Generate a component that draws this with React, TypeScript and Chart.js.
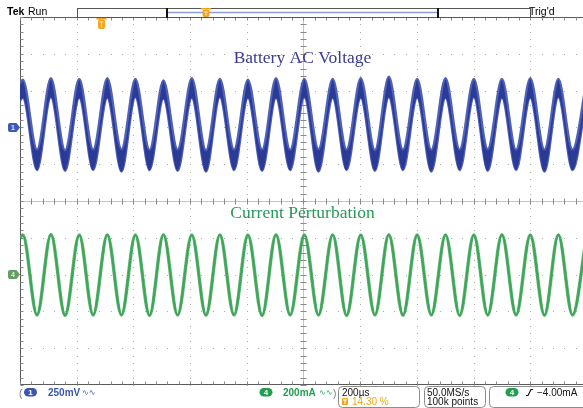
import React, { useEffect, useRef } from "react";
import { Chart, registerables } from "chart.js";
Chart.register(...registerables);

// ---- data ----
// times of the sample points (µs), start + alternating peaks/troughs
const timeUs = [0, 10, 60, 109, 159, 209, 258, 308, 358, 407, 457, 506, 556, 606, 656, 705, 755, 804, 854, 903, 953, 1003, 1053, 1103, 1152, 1202, 1252, 1301, 1351, 1401, 1451, 1501, 1551, 1601, 1650, 1700, 1750, 1800, 1850, 1899, 1949, 1999];
// CH1 (battery AC voltage) noisy band: upper and lower envelope, mV
const ch1UpperMv = [300, 325, -150, 335, -155, 330, -150, 335, -148, 330, -152, 320, -150, 335, -155, 330, -150, 325, -150, 335, -152, 330, -148, 330, -150, 335, -155, 345, -150, 330, -152, 335, -150, 330, -148, 330, -152, 335, -150, 330, -150, 325];
const ch1LowerMv = [180, 200, -290, 205, -295, 200, -290, 200, -300, 205, -290, 195, -295, 200, -300, 205, -290, 200, -295, 200, -290, 205, -300, 200, -290, 200, -295, 205, -290, 200, -300, 200, -290, 205, -295, 200, -290, 200, -300, 205, -290, 200];
// CH4 (current perturbation), mA
const ch4Ma = [200, 215, -220, 218, -222, 215, -220, 216, -220, 215, -222, 217, -220, 215, -221, 216, -220, 215, -222, 217, -220, 215, -220, 216, -222, 215, -220, 217, -221, 215, -220, 216, -222, 215, -220, 217, -220, 215, -221, 216, -220, 215];

const CH1_MV_PER_DIV = 250;
const CH1_OFFSET_DIV = 2;
const CH4_MA_PER_DIV = 200;
const CH4_OFFSET_DIV = -2;
const US_PER_DIV = 200;
const VISIBLE_MAX_US = 1986;
const TRIGGER_US = 286;

const titleCh1 = "Battery AC Voltage";
const titleCh4 = "Current Perturbation";
const headerLeftBold = "Tek";
const headerLeft = "Run";
const headerRight = "Trig'd";
const ch1Label = "250mV";
const ch4Label = "200mA";
const timebaseLabel = "200µs";
const triggerPosLabel = "14.30 %";
const sampleRateLabel = "50.0MS/s";
const recordLabel = "100k points";
const triggerLevelLabel = "−4.00mA";

const BLUE = "#3b55b0";
const GREEN = "#1f9f4f";
const ORANGE = "#f2a51c";

function rrect(ctx: CanvasRenderingContext2D, x: number, y: number, w: number, h: number, r: number) {
  ctx.beginPath();
  ctx.moveTo(x + r, y);
  ctx.lineTo(x + w - r, y);
  ctx.arcTo(x + w, y, x + w, y + r, r);
  ctx.lineTo(x + w, y + h - r);
  ctx.arcTo(x + w, y + h, x + w - r, y + h, r);
  ctx.lineTo(x + r, y + h);
  ctx.arcTo(x, y + h, x, y + h - r, r);
  ctx.lineTo(x, y + r);
  ctx.arcTo(x, y, x + r, y, r);
  ctx.closePath();
}

function pill(ctx: CanvasRenderingContext2D, x: number, y: number, w: number, h: number, fill: string, text: string) {
  rrect(ctx, x, y, w, h, h / 2);
  ctx.fillStyle = fill;
  ctx.fill();
  ctx.fillStyle = "#ffffff";
  ctx.font = "bold 8px 'Liberation Sans', Arial, sans-serif";
  ctx.textAlign = "center";
  ctx.textBaseline = "middle";
  ctx.fillText(text, x + w / 2, y + h / 2 + 0.5);
}

function trigMarker(ctx: CanvasRenderingContext2D, x: number, yTop: number, h: number) {
  ctx.fillStyle = ORANGE;
  ctx.fillRect(x - 5, yTop, 10, 1.5);
  rrect(ctx, x - 3.5, yTop + 1.5, 7, h - 1.5, 2);
  ctx.fill();
  ctx.fillStyle = "#fde3b0";
  ctx.fillRect(x - 2, yTop + 3.5, 4, 1);
  ctx.fillRect(x - 0.5, yTop + 3.5, 1, h - 5);
}

const scopePlugin = {
  id: "scope",
  beforeDatasetsDraw(chart: any) {
    const ctx: CanvasRenderingContext2D = chart.ctx;
    const xs = chart.scales.x;
    const ys = chart.scales.y;
    const ca = chart.chartArea;
    ctx.save();
    // dotted graticule
    ctx.fillStyle = "#a8a8a8";
    for (let i = 1; i < 11; i++) {
      if (i === 5) continue;
      const x = Math.round(xs.getPixelForValue(i * US_PER_DIV));
      if (x >= ca.right) continue;
      for (let j = 0; j <= 50; j++) {
        const y = Math.round(ys.getPixelForValue(-5 + j * 0.2));
        ctx.fillRect(x, y, 1, 1);
      }
    }
    for (let d = -4; d <= 4; d++) {
      if (d === 0) continue;
      const y = Math.round(ys.getPixelForValue(d));
      for (let j = 0; j <= 50; j++) {
        const x = Math.round(xs.getPixelForValue((j * US_PER_DIV) / 5));
        if (x >= ca.right) continue;
        ctx.fillRect(x, y, 1, 1);
      }
    }
    // center cross
    const cx = Math.round(xs.getPixelForValue(5 * US_PER_DIV)) + 0.5;
    const cy = Math.round(ys.getPixelForValue(0)) + 0.5;
    ctx.strokeStyle = "#c4c4c4";
    ctx.lineWidth = 1;
    ctx.beginPath();
    ctx.moveTo(cx, ca.top);
    ctx.lineTo(cx, ca.bottom);
    ctx.moveTo(ca.left, cy);
    ctx.lineTo(ca.right, cy);
    ctx.stroke();
    ctx.strokeStyle = "#8a8a8a";
    ctx.beginPath();
    for (let j = 0; j <= 50; j++) {
      const y = Math.round(ys.getPixelForValue(-5 + j * 0.2)) + 0.5;
      ctx.moveTo(cx - 3, y);
      ctx.lineTo(cx + 3, y);
      const x = Math.round(xs.getPixelForValue((j * US_PER_DIV) / 5)) + 0.5;
      if (x < ca.right) {
        ctx.moveTo(x, cy - 3);
        ctx.lineTo(x, cy + 3);
      }
    }
    ctx.stroke();
    // frame (left, top, bottom) with minor ticks
    ctx.strokeStyle = "#5a5a5a";
    ctx.lineWidth = 1;
    const L = Math.round(ca.left) + 0.5;
    const T = Math.round(ca.top) + 0.5;
    const B = Math.round(ca.bottom) - 0.5;
    ctx.beginPath();
    ctx.moveTo(L, T);
    ctx.lineTo(L, B);
    ctx.moveTo(L, T);
    ctx.lineTo(ca.right, T);
    ctx.moveTo(L, B);
    ctx.lineTo(ca.right, B);
    ctx.stroke();
    ctx.strokeStyle = "#8a8a8a";
    ctx.beginPath();
    for (let j = 0; j <= 50; j++) {
      const y = Math.round(ys.getPixelForValue(-5 + j * 0.2)) + 0.5;
      ctx.moveTo(L, y);
      ctx.lineTo(L + 3, y);
      const x = Math.round(xs.getPixelForValue((j * US_PER_DIV) / 5)) + 0.5;
      if (x < ca.right) {
        ctx.moveTo(x, T);
        ctx.lineTo(x, T + 3);
        ctx.moveTo(x, B);
        ctx.lineTo(x, B - 3);
      }
    }
    ctx.stroke();
    ctx.restore();
  },
  afterDatasetsDraw(chart: any) {
    const ctx: CanvasRenderingContext2D = chart.ctx;
    const xs = chart.scales.x;
    const ys = chart.scales.y;
    const ca = chart.chartArea;
    const midX = xs.getPixelForValue(1000) - 1;
    ctx.save();
    // titles
    ctx.textAlign = "center";
    ctx.textBaseline = "alphabetic";
    ctx.font = "17.5px 'Liberation Serif', 'Times New Roman', serif";
    ctx.fillStyle = "#3c3c94";
    ctx.fillText(titleCh1, midX, 63);
    ctx.fillStyle = "#27995a";
    ctx.fillText(titleCh4, midX, 218);

    // channel ground markers
    const drawGnd = (yv: number, fill: string, label: string) => {
      const y = ys.getPixelForValue(yv);
      ctx.beginPath();
      ctx.moveTo(10, y - 4.5);
      ctx.lineTo(16.5, y - 4.5);
      ctx.lineTo(ca.left, y);
      ctx.lineTo(16.5, y + 4.5);
      ctx.lineTo(10, y + 4.5);
      ctx.quadraticCurveTo(8, y + 4.5, 8, y + 2.5);
      ctx.lineTo(8, y - 2.5);
      ctx.quadraticCurveTo(8, y - 4.5, 10, y - 4.5);
      ctx.closePath();
      ctx.fillStyle = fill;
      ctx.fill();
      ctx.fillStyle = "#dfe6f5";
      ctx.font = "bold 7px 'Liberation Sans', Arial, sans-serif";
      ctx.textAlign = "center";
      ctx.textBaseline = "middle";
      ctx.fillText(label, 13, y + 0.5);
    };
    drawGnd(CH1_OFFSET_DIV, "#3d5bb3", "1");
    drawGnd(CH4_OFFSET_DIV, "#64a064", "4");

    // trigger position marker on graticule
    trigMarker(ctx, Math.round(xs.getPixelForValue(TRIGGER_US)) + 0.5, ca.top + 1, 11);

    // header
    ctx.textAlign = "left";
    ctx.textBaseline = "alphabetic";
    ctx.fillStyle = "#000";
    ctx.font = "bold 10.5px 'Liberation Sans', Arial, sans-serif";
    ctx.fillText(headerLeftBold, 7, 15);
    ctx.font = "10.5px 'Liberation Sans', Arial, sans-serif";
    ctx.fillText(headerLeft, 28, 15);
    ctx.fillText(headerRight, 529, 15);

    // record bar
    const barL = xs.getPixelForValue(US_PER_DIV);
    const barR = xs.getPixelForValue(9 * US_PER_DIV) - 0.5;
    ctx.strokeStyle = "#555";
    ctx.lineWidth = 1;
    ctx.strokeRect(Math.round(barL) + 0.5, 8.5, Math.round(barR - barL), 9);
    const winL = 167;
    const winR = 438;
    ctx.strokeStyle = "#8ea0d8";
    ctx.lineWidth = 1.5;
    ctx.beginPath();
    ctx.moveTo(winL, 12.5);
    ctx.lineTo(winR, 12.5);
    ctx.stroke();
    ctx.fillStyle = "#111";
    ctx.fillRect(winL - 1, 8, 2, 10);
    ctx.fillRect(winR - 1, 8, 2, 10);
    trigMarker(ctx, 206, 8, 9);

    // footer
    ctx.font = "10px 'Liberation Sans', Arial, sans-serif";
    ctx.fillStyle = "#777";
    ctx.fillText("(", 19, 397);
    ctx.fillText(")", 333, 397);
    pill(ctx, 24, 388, 13, 8.5, BLUE, "1");
    ctx.textAlign = "left";
    ctx.textBaseline = "alphabetic";
    ctx.font = "bold 10px 'Liberation Sans', Arial, sans-serif";
    ctx.fillStyle = BLUE;
    ctx.fillText(ch1Label, 48, 396);
    ctx.font = "8px 'DejaVu Sans', sans-serif";
    ctx.fillText("∿∿", 82, 395);
    pill(ctx, 259.5, 388, 13, 8.5, GREEN, "4");
    ctx.textAlign = "left";
    ctx.textBaseline = "alphabetic";
    ctx.font = "bold 10px 'Liberation Sans', Arial, sans-serif";
    ctx.fillStyle = GREEN;
    ctx.fillText(ch4Label, 283, 396);
    ctx.font = "8px 'DejaVu Sans', sans-serif";
    ctx.fillText("∿∿", 319, 395);

    ctx.strokeStyle = "#8c8c8c";
    ctx.lineWidth = 1;
    rrect(ctx, 338.5, 386.5, 81, 21, 4);
    ctx.stroke();
    rrect(ctx, 424.5, 386.5, 61, 21, 4);
    ctx.stroke();
    rrect(ctx, 489.5, 386.5, 100, 21, 4);
    ctx.stroke();

    ctx.font = "10px 'Liberation Sans', Arial, sans-serif";
    ctx.fillStyle = "#111";
    ctx.fillText(timebaseLabel, 342, 396);
    ctx.fillText(sampleRateLabel, 427, 396);
    ctx.fillText(recordLabel, 427, 405);
    ctx.fillText(triggerLevelLabel, 537, 396);
    // orange T icon and trigger position
    ctx.fillStyle = ORANGE;
    rrect(ctx, 342, 398, 6, 7, 1);
    ctx.fill();
    ctx.fillStyle = "#fff";
    ctx.fillRect(343, 399.5, 4, 1);
    ctx.fillRect(344.5, 399.5, 1, 4.5);
    ctx.fillStyle = ORANGE;
    ctx.font = "10px 'Liberation Sans', Arial, sans-serif";
    ctx.fillText(triggerPosLabel, 352, 405);
    pill(ctx, 505.5, 388, 13, 8.5, GREEN, "4");
    // rising edge symbol
    ctx.strokeStyle = "#111";
    ctx.lineWidth = 1.2;
    ctx.beginPath();
    ctx.moveTo(526, 395.5);
    ctx.lineTo(528, 395.5);
    ctx.lineTo(531, 389.5);
    ctx.lineTo(533, 389.5);
    ctx.stroke();
    ctx.restore();
  },
};

export default function App() {
  const ref = useRef<HTMLCanvasElement | null>(null);
  useEffect(() => {
    if (!ref.current) return;
    const ch1Upper = timeUs.map((t, i) => ({ x: t, y: CH1_OFFSET_DIV + ch1UpperMv[i] / CH1_MV_PER_DIV }));
    const ch1Lower = timeUs.map((t, i) => ({ x: t, y: CH1_OFFSET_DIV + ch1LowerMv[i] / CH1_MV_PER_DIV }));
    const ch4 = timeUs.map((t, i) => ({ x: t, y: CH4_OFFSET_DIV + ch4Ma[i] / CH4_MA_PER_DIV }));
    const chart = new Chart(ref.current, {
      type: "line",
      data: {
        datasets: [
          {
            label: "CH1 upper",
            data: ch1Upper,
            borderColor: "#5061b8",
            borderWidth: 2.2,
            backgroundColor: "#2b3a94",
            fill: "+1",
            pointRadius: 0,
            cubicInterpolationMode: "monotone",
          },
          {
            label: "CH1 lower",
            data: ch1Lower,
            borderColor: "#5061b8",
            borderWidth: 2.2,
            fill: false,
            pointRadius: 0,
            cubicInterpolationMode: "monotone",
          },
          {
            label: "CH4 glow",
            data: ch4,
            borderColor: "rgba(70,170,95,0.85)",
            borderWidth: 3.4,
            fill: false,
            pointRadius: 0,
            cubicInterpolationMode: "monotone",
          },
          {
            label: "CH4",
            data: ch4,
            borderColor: "#12863a",
            borderWidth: 2,
            fill: false,
            pointRadius: 0,
            cubicInterpolationMode: "monotone",
          },
        ],
      },
      options: {
        animation: false,
        responsive: false,
        devicePixelRatio: 1,
        layout: { padding: { left: 20, top: 17, right: 0, bottom: 23 } },
        plugins: { legend: { display: false }, tooltip: { enabled: false } },
        scales: {
          x: { type: "linear", min: 0, max: VISIBLE_MAX_US, display: false },
          y: { type: "linear", min: -5, max: 5, display: false },
        },
      },
      plugins: [scopePlugin],
    } as any);
    return () => chart.destroy();
  }, []);
  return (
    <div style={{ position: "fixed", left: 0, top: 0, width: 583, height: 408, background: "#fff" }}>
      <canvas ref={ref} width={583} height={408} style={{ display: "block", width: 583, height: 408 }} />
    </div>
  );
}
